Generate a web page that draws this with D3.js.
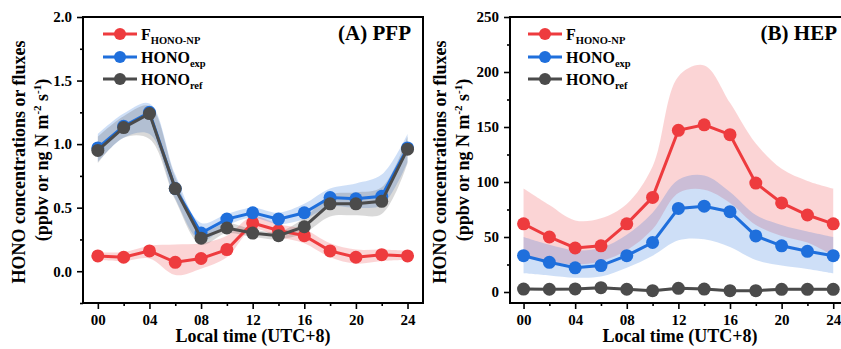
<!DOCTYPE html>
<html>
<head>
<meta charset="utf-8">
<script src="https://cdn.jsdelivr.net/npm/d3@7"></script>
<style>
  body { margin: 0; background: #fff; }
  svg text { font-family: "Liberation Serif", "Times New Roman", serif; font-weight: bold; fill: #000; }
</style>
</head>
<body>
<svg id="chart" width="841" height="349"></svg>
<script>
/* ---- data ---- */
var hours = [0, 2, 4, 6, 8, 10, 12, 14, 16, 18, 20, 22, 24]

// (A) PFP
var pfpF     = [0.12, 0.11, 0.16, 0.07, 0.10, 0.17, 0.38, 0.32, 0.28, 0.16, 0.11, 0.13, 0.12]
var pfpFLo   = [0.09, 0.08, 0.10, -0.03, 0.02, 0.11, 0.33, 0.27, 0.22, 0.11, 0.06, 0.08, 0.09]
var pfpFHi   = [0.15, 0.15, 0.20, 0.21, 0.22, 0.28, 0.43, 0.37, 0.33, 0.22, 0.17, 0.17, 0.16]
var pfpExp   = [0.97, 1.14, 1.25, 0.65, 0.30, 0.41, 0.46, 0.41, 0.46, 0.58, 0.57, 0.59, 0.97]
var pfpExpLo = [0.86, 1.05, 1.08, 0.57, 0.24, 0.36, 0.42, 0.37, 0.41, 0.51, 0.50, 0.52, 0.86]
var pfpExpHi = [1.08, 1.24, 1.32, 0.76, 0.38, 0.45, 0.50, 0.46, 0.53, 0.65, 0.69, 0.76, 1.08]
var pfpRef   = [0.95, 1.13, 1.24, 0.65, 0.26, 0.34, 0.30, 0.28, 0.35, 0.53, 0.53, 0.55, 0.96]
var pfpRefLo = [0.85, 1.05, 1.04, 0.56, 0.21, 0.30, 0.27, 0.25, 0.30, 0.43, 0.44, 0.45, 0.85]
var pfpRefHi = [1.06, 1.22, 1.30, 0.74, 0.32, 0.38, 0.33, 0.31, 0.42, 0.60, 0.62, 0.66, 1.06]

// (B) HEP
var hepF     = [62, 50, 40, 42, 62, 86, 147, 152, 143, 99, 81, 70, 62]
var hepFLo   = [32, 28, 25, 28, 38, 57, 90, 93, 81, 61, 51, 45, 33]
var hepFHi   = [94, 79, 65, 67, 80, 114, 196, 206, 172, 135, 112, 101, 94]
var hepExp   = [33, 27, 22, 24, 33, 45, 76, 78, 73, 51, 42, 37, 33]
var hepExpLo = [17, 15, 13, 14, 22, 33, 47, 48, 41, 29, 24, 21, 17]
var hepExpHi = [50, 43, 38, 40, 52, 72, 102, 106, 91, 70, 61, 55, 50]
var hepRef   = [2.7, 2.5, 2.8, 3.9, 2.5, 1.2, 3.3, 2.7, 1.2, 1.2, 2.4, 2.4, 2.4]
var hepRefLo = [1.5, 1.3, 1.6, 2.6, 1.3, 0.1, 2.0, 1.5, 0.1, 0.1, 1.2, 1.2, 1.2]
var hepRefHi = [3.9, 3.7, 4.0, 5.2, 3.7, 2.3, 4.6, 3.9, 2.3, 2.3, 3.6, 3.6, 3.6]

var xMajor = [0, 4, 8, 12, 16, 20, 24]
var xMinor = [2, 6, 10, 14, 18, 22]
var pfpYMajor = [0, 0.5, 1.0, 1.5, 2.0]
var pfpYMinor = [-0.25, 0.25, 0.75, 1.25, 1.75]
var hepYMajor = [0, 50, 100, 150, 200, 250]
var hepYMinor = [25, 75, 125, 175, 225]

var red = "#ee3b3e", blue = "#1f6fdc", grey = "#4b4b4b"

var svg = d3.select("#chart")

/* one panel */
function drawPanel(p) {
    var x = d3.scaleLinear().domain(p.xDomain).range([p.left, p.right])
    var y = d3.scaleLinear().domain(p.yDomain).range([303, 17])
    var g = svg.append("g")

    var series = [
        {v: p.f, lo: p.fLo, hi: p.fHi, c: red, a: 0.22},
        {v: p.exp, lo: p.expLo, hi: p.expHi, c: blue, a: 0.22},
        {v: p.ref, lo: p.refLo, hi: p.refHi, c: grey, a: 0.21}
    ]

    var band = d3.area()
        .x(function(d) { return x(d.h) })
        .y0(function(d) { return y(d.lo) })
        .y1(function(d) { return y(d.hi) })
        .curve(d3.curveCatmullRom.alpha(0.5))
    var line = d3.line()
        .x(function(d) { return x(d.h) })
        .y(function(d) { return y(d.v) })

    var clip = g.append("clipPath").attr("id", "clip" + p.id)
    clip.append("rect").attr("x", p.left).attr("y", 17)
        .attr("width", p.right - p.left).attr("height", 286)
    var plot = g.append("g").attr("clip-path", "url(#clip" + p.id + ")")

    series.forEach(function(s) {
        var pts = hours.map(function(h, i) { return {h: h, v: s.v[i], lo: s.lo[i], hi: s.hi[i]} })
        plot.append("path").datum(pts)
            .attr("d", band)
            .attr("fill", s.c).attr("fill-opacity", s.a)
        s.pts = pts
    })
    series.forEach(function(s) {
        plot.append("path").datum(s.pts)
            .attr("d", line)
            .attr("fill", "none").attr("stroke", s.c).attr("stroke-width", 3)
        plot.selectAll(null).data(s.pts).enter().append("circle")
            .attr("cx", function(d) { return x(d.h) })
            .attr("cy", function(d) { return y(d.v) })
            .attr("r", 6.5).attr("fill", s.c)
    })

    /* axes */
    var ax = g.append("g").attr("transform", "translate(0,303)")
    ax.call(d3.axisBottom(x).tickValues(xMajor).tickSize(6).tickPadding(5).tickFormat(d3.format("02d")))
    ax.append("g").call(d3.axisBottom(x).tickValues(xMinor).tickSize(3).tickFormat(""))
    var ay = g.append("g").attr("transform", "translate(" + p.left + ",0)")
    ay.call(d3.axisLeft(y).tickValues(p.yMajor).tickSize(6).tickPadding(5).tickFormat(p.fmt))
    ay.append("g").call(d3.axisLeft(y).tickValues(p.yMinor).tickSize(3).tickFormat(""))
    g.selectAll(".domain").remove()
    g.selectAll(".tick line").attr("stroke", "#000").attr("stroke-width", 1.6)
    g.selectAll(".tick text").attr("font-size", 15).attr("fill", "#000")
        .style("font-family", "Liberation Serif").style("font-weight", "bold")

    g.append("rect")
        .attr("x", p.left).attr("y", 17)
        .attr("width", p.right - p.left).attr("height", 286)
        .attr("fill", "none").attr("stroke", "#000").attr("stroke-width", 2)

    /* titles */
    g.append("text")
        .attr("x", (p.left + p.right) / 2).attr("y", 342)
        .attr("text-anchor", "middle").attr("font-size", 18)
        .text("Local time (UTC+8)")

    g.append("text")
        .attr("transform", "translate(" + p.yt1 + ",162) rotate(-90)")
        .attr("text-anchor", "middle").attr("font-size", 18)
        .text("HONO concentrations or fluxes")
    var t2 = g.append("text")
        .attr("transform", "translate(" + p.yt2 + ",160) rotate(-90)")
        .attr("text-anchor", "middle").attr("font-size", 18)
    t2.append("tspan").text("(ppbv or ng N m")
    t2.append("tspan").attr("font-size", 11).attr("dy", -7).text("-2")
    t2.append("tspan").attr("dy", 7).text(" s")
    t2.append("tspan").attr("font-size", 11).attr("dy", -7).text("-1")
    t2.append("tspan").attr("dy", 7).text(")")

    g.append("text")
        .attr("x", p.labelX).attr("y", 40)
        .attr("text-anchor", "end").attr("font-size", 21)
        .text(p.label)

    /* legend */
    var names = [["F", "HONO-NP"], ["HONO", "exp"], ["HONO", "ref"]]
    var rows = [34, 57, 79]
    series.forEach(function(s, i) {
        var lx = p.legX
        g.append("line")
            .attr("x1", lx).attr("x2", lx + 34)
            .attr("y1", rows[i]).attr("y2", rows[i])
            .attr("stroke", s.c).attr("stroke-width", 3)
        g.append("circle").attr("cx", lx + 17).attr("cy", rows[i]).attr("r", 6).attr("fill", s.c)
        var tx = g.append("text").attr("x", lx + 38).attr("y", rows[i] + 6).attr("font-size", 16)
        tx.append("tspan").text(names[i][0])
        tx.append("tspan").attr("font-size", 10.5).attr("dy", 4).text(names[i][1])
    })
}

drawPanel({
    id: "A", left: 83, right: 423, xDomain: [-1.15, 25.2], yDomain: [-0.25, 2.0],
    f: pfpF, fLo: pfpFLo, fHi: pfpFHi,
    exp: pfpExp, expLo: pfpExpLo, expHi: pfpExpHi,
    ref: pfpRef, refLo: pfpRefLo, refHi: pfpRefHi,
    yMajor: pfpYMajor, yMinor: pfpYMinor, fmt: d3.format(".1f"),
    yt1: 25, yt2: 48, label: "(A) PFP", labelX: 411, legX: 103
})

drawPanel({
    id: "B", left: 510, right: 850, xDomain: [-1.05, 25.3], yDomain: [-10, 250],
    f: hepF, fLo: hepFLo, fHi: hepFHi,
    exp: hepExp, expLo: hepExpLo, expHi: hepExpHi,
    ref: hepRef, refLo: hepRefLo, refHi: hepRefHi,
    yMajor: hepYMajor, yMinor: hepYMinor, fmt: d3.format("d"),
    yt1: 446, yt2: 469, label: "(B) HEP", labelX: 837, legX: 528
})
</script>
</body>
</html>
